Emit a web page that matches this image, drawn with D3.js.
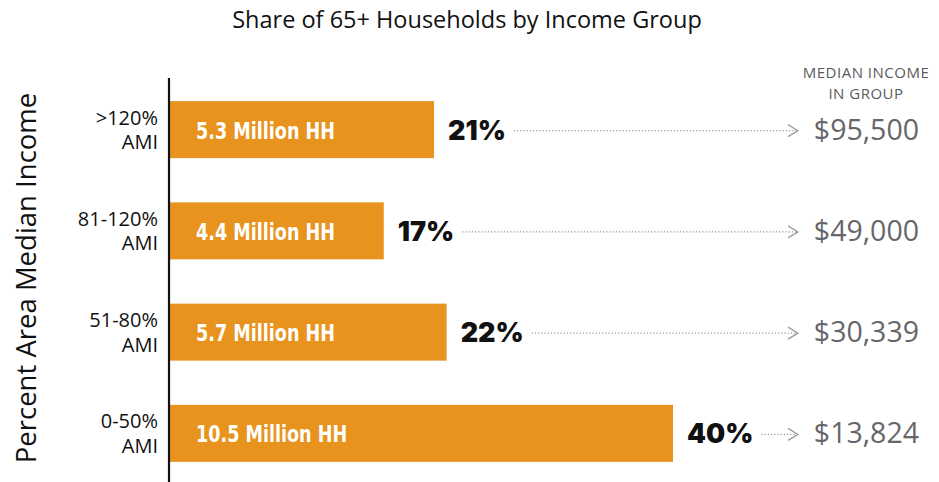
<!DOCTYPE html>
<html>
<head>
<meta charset="utf-8">
<script src="https://cdn.jsdelivr.net/npm/d3@7"></script>
<style>
  body { margin: 0; background: #fff; }
  svg { display: block; font-family: "Open Sans", "Noto Sans", sans-serif; }
</style>
</head>
<body>
<div id="chart"></div>
<script>
// Share of 65+ households by income group
const groups = ['>120%|AMI', '81-120%|AMI', '51-80%|AMI', '0-50%|AMI'];
const shares = [21, 17, 22, 40];
const households = ['5.3 Million HH', '4.4 Million HH', '5.7 Million HH', '10.5 Million HH'];
const medianIncome = ['$95,500', '$49,000', '$30,339', '$13,824'];

const W = 939, H = 482;
const orange = '#e8931e';

const svg = d3.select('#chart').append('svg')
    .attr('width', W).attr('height', H);

const x = d3.scaleLinear().domain([0, 40]).range([170, 673]);
const y = d3.scaleBand().domain(groups).range([79, 484])
    .paddingInner(0.437).paddingOuter(0.2185);

// Title
svg.append('text').attr('x', 467).attr('y', 28)
    .attr('text-anchor', 'middle').attr('font-size', 23.5).attr('fill', '#111')
    .text('Share of 65+ Households by Income Group');

// Y-axis title
svg.append('text').attr('transform', 'translate(36,278) rotate(-90)')
    .attr('text-anchor', 'middle').attr('font-size', 27.5).attr('fill', '#111')
    .text('Percent Area Median Income');

// Column header
svg.append('text').attr('x', 866).attr('y', 78)
    .attr('text-anchor', 'middle').attr('font-size', 15).attr('fill', '#5a5a5e')
    .attr('letter-spacing', 0.5)
    .selectAll('tspan').data(['MEDIAN INCOME', 'IN GROUP']).enter().append('tspan')
    .attr('x', 866).attr('dy', (d, i) => i ? 21 : 0).text(d => d);

// Bars
svg.selectAll('rect.bar').data(groups).enter().append('rect')
    .attr('class', 'bar')
    .attr('x', x(0)).attr('y', d => y(d))
    .attr('width', (d, i) => x(shares[i]) - x(0))
    .attr('height', y.bandwidth())
    .attr('fill', orange);

// Category labels (two lines, right aligned)
const cat = svg.selectAll('text.cat').data(groups).enter().append('text')
    .attr('class', 'cat')
    .attr('text-anchor', 'end').attr('font-size', 20).attr('fill', '#111');
cat.selectAll('tspan').data(d => d.split('|').map(t => ({ t, d }))).enter().append('tspan')
    .attr('x', 158)
    .attr('y', (p, i) => y(p.d) + y.bandwidth() / 2 - 5 + i * 24.5)
    .text(p => p.t);

// Household labels inside bars (condensed bold)
svg.selectAll('text.hh').data(groups).enter().append('text')
    .attr('class', 'hh')
    .attr('transform', d => `translate(196,${y(d) + y.bandwidth() / 2 + 9}) scale(0.85,1)`)
    .attr('font-family', '"DejaVu Sans Condensed", "DejaVu Sans", sans-serif')
    .attr('font-stretch', 'condensed')
    .attr('font-weight', 'bold').attr('font-size', 23).attr('fill', '#fff')
    .text((d, i) => households[i]);

// Percent labels
const pct = svg.selectAll('text.pct').data(groups).enter().append('text')
    .attr('class', 'pct')
    .attr('x', (d, i) => x(shares[i]) + 14)
    .attr('y', d => y(d) + y.bandwidth() / 2 + 10)
    .attr('font-family', 'Inter, "Open Sans", sans-serif')
    .attr('font-weight', 900).attr('font-size', 27).attr('fill', '#111')
    .text((d, i) => shares[i] + '%');

// Dotted leaders + chevrons
const arrowX = 798;
pct.each(function (d, i) {
    const x0 = +this.getAttribute('x') + this.getComputedTextLength() + 8;
    const cy = y(d) + y.bandwidth() / 2 + 1;
    svg.append('line')
        .attr('x1', x0).attr('x2', arrowX - 2)
        .attr('y1', cy).attr('y2', cy)
        .attr('stroke', '#9a9a9a').attr('stroke-width', 1.2)
        .attr('stroke-dasharray', '1.2,2');
    svg.append('path')
        .attr('d', `M${arrowX - 10},${cy - 6}L${arrowX},${cy}L${arrowX - 10},${cy + 6}`)
        .attr('fill', 'none').attr('stroke', '#9a9a9a').attr('stroke-width', 1.2);
});

// Median income values
svg.selectAll('text.inc').data(groups).enter().append('text')
    .attr('class', 'inc')
    .attr('x', 919).attr('y', d => y(d) + y.bandwidth() / 2 + 10)
    .attr('text-anchor', 'end').attr('font-size', 28.5).attr('fill', '#66666b')
    .text((d, i) => medianIncome[i]);

// Vertical axis line
svg.append('line').attr('x1', 169).attr('x2', 169).attr('y1', 78).attr('y2', H)
    .attr('stroke', '#111').attr('stroke-width', 2.2);
</script>
</body>
</html>
